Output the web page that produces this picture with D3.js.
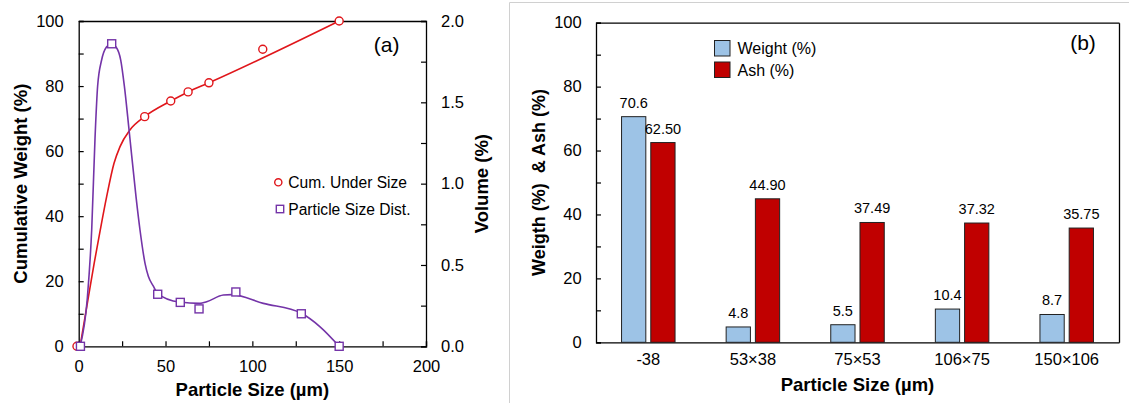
<!DOCTYPE html>
<html>
<head>
<meta charset="utf-8">
<script src="https://cdn.jsdelivr.net/npm/d3@7"></script>
<style>
html,body{margin:0;padding:0;background:#fff;}
svg{display:block;font-family:"Liberation Sans",Arial,sans-serif;}
</style>
</head>
<body>
<svg id="chart" width="1129" height="403"></svg>
<script>
// ---------- Panel (a) data ----------
const cumX = [-1, 38, 53, 63, 75, 106, 150];
const cumY = [0, 70.6, 75.4, 78.2, 81.0, 91.3, 100];
const cumLineX = [0.8, 5.6, 8.9, 12.4, 16.1, 20.3, 23.8, 29.5, 38, 53, 63, 75, 150];
const cumLineY = [0, 15.2, 25.5, 35.7, 46, 56.2, 61.4, 66.5, 70.6, 75.4, 78.2, 81, 100];
const psdX = [1, 19, 45.5, 58.5, 69.3, 90.5, 128.2, 150];
const psdV = [0, 1.86, 0.32, 0.27, 0.23, 0.334, 0.20, 0];
const psdLineX = [0.8, 5, 7.5, 9.4, 10.9, 13.2, 16, 18.8, 21.5, 24.2, 26.3, 29, 33, 35.3, 38.2, 40.1, 43, 45.3, 58, 69.9, 73.7, 83.3, 88, 106.3, 128.2, 139, 150];
const psdLineV = [0, 0.3, 0.72, 1.28, 1.6, 1.76, 1.84, 1.86, 1.84, 1.76, 1.6, 1.33, 0.92, 0.715, 0.51, 0.43, 0.37, 0.326, 0.272, 0.264, 0.274, 0.315, 0.318, 0.264, 0.203, 0.12, 0];
const xTicksA = [0, 50, 100, 150, 200];
const yTicksA = [0, 20, 40, 60, 80, 100];
const y2TicksA = [0, 0.5, 1.0, 1.5, 2.0];

// ---------- Panel (b) data ----------
const categories = ["-38", "53\u00d738", "75\u00d753", "106\u00d775", "150\u00d7106"];
const weightPct = [70.6, 4.8, 5.5, 10.4, 8.7];
const ashPct = [62.50, 44.90, 37.49, 37.32, 35.75];
const seriesB = ["Weight (%)", "Ash (%)"];
const yTicksB = [0, 20, 40, 60, 80, 100];

const svg = d3.select("#chart");
const FONT = '"Liberation Sans",Arial,sans-serif';
const RED = "#e0161b", PURPLE = "#7434a8", BLUE = "#9dc3e6", DRED = "#c00000";

// ================= Panel (a) =================
const A = {l: 78.7, r: 426, t: 21, b: 346.3};
const xa = d3.scaleLinear().domain([0, 200]).range([A.l, A.r]);
const ya = d3.scaleLinear().domain([0, 100]).range([A.b, A.t]);
const ya2 = d3.scaleLinear().domain([0, 2]).range([A.b, A.t]);
const ga = svg.append("g");

// axes
const axB = ga.append("g").attr("transform", `translate(0,${A.b})`)
  .call(d3.axisBottom(xa).tickValues(d3.range(0, 201, 25)).tickSize(-5).tickFormat(d => xTicksA.includes(d) ? d : ""));
const axL = ga.append("g").attr("transform", `translate(${A.l},0)`)
  .call(d3.axisLeft(ya).tickValues(d3.range(0, 101, 10)).tickSize(-5).tickFormat(d => yTicksA.includes(d) ? d : ""));
const axR = ga.append("g").attr("transform", `translate(${A.r},0)`)
  .call(d3.axisRight(ya2).tickValues(d3.range(0, 2.01, 0.25)).tickSize(-5).tickFormat(d => y2TicksA.some(v => Math.abs(v - d) < 1e-6) ? d3.format(".1f")(d) : ""));
const axT = ga.append("g").attr("transform", `translate(0,${A.t})`)
  .call(d3.axisTop(xa).tickValues([]).tickSize(0));
[axB, axL, axR, axT].forEach(g => {
  g.select(".domain").attr("stroke", "#000").attr("stroke-width", 1.3);
  g.selectAll(".tick line").attr("stroke", "#000").attr("stroke-width", 1.2);
  g.selectAll(".tick text").attr("font-family", FONT).attr("font-size", 16.5).attr("fill", "#000");
});
axB.selectAll(".tick text").attr("y", 14).attr("dy", "0.71em");
axL.selectAll(".tick text").attr("x", -15);
axR.selectAll(".tick text").attr("x", 15);

// red fitted line
const lineA = d3.line().x(d => xa(d[0])).y(d => ya(d[1])).curve(d3.curveMonotoneX);
ga.append("path").datum(cumLineX.map((x, i) => [x, cumLineY[i]]))
  .attr("d", lineA).attr("fill", "none").attr("stroke", RED).attr("stroke-width", 1.6);
ga.selectAll("circle.cum").data(cumX.map((x, i) => [x, cumY[i]])).enter().append("circle")
  .attr("cx", d => xa(d[0])).attr("cy", d => ya(d[1])).attr("r", 4)
  .attr("fill", "#fff").attr("stroke", RED).attr("stroke-width", 1.4);

// purple curve
const lineA2 = d3.line().x(d => xa(d[0])).y(d => ya2(d[1])).curve(d3.curveMonotoneX);
ga.append("path").datum(psdLineX.map((x, i) => [x, psdLineV[i]]))
  .attr("d", lineA2).attr("fill", "none").attr("stroke", PURPLE).attr("stroke-width", 1.6);
ga.selectAll("rect.psd").data(psdX.map((x, i) => [x, psdV[i]])).enter().append("rect")
  .attr("x", d => xa(d[0]) - 4).attr("y", d => ya2(d[1]) - 4).attr("width", 8).attr("height", 8)
  .attr("fill", "#fff").attr("stroke", PURPLE).attr("stroke-width", 1.4);

// legend (a)
ga.append("circle").attr("cx", 278.3).attr("cy", 182.3).attr("r", 3.6)
  .attr("fill", "#fff").attr("stroke", RED).attr("stroke-width", 1.4);
ga.append("text").attr("x", 288.3).attr("y", 188).attr("font-size", 15.6).text("Cum. Under Size");
ga.append("rect").attr("x", 276.3).attr("y", 205.3).attr("width", 7.4).attr("height", 7.4)
  .attr("fill", "#fff").attr("stroke", PURPLE).attr("stroke-width", 1.4);
ga.append("text").attr("x", 288.3).attr("y", 214.5).attr("font-size", 15.6).text("Particle Size Dist.");

ga.append("text").attr("x", 386.7).attr("y", 52).attr("text-anchor", "middle").attr("font-size", 21).text("(a)");

// titles (a)
ga.append("text").attr("x", (A.l + A.r) / 2).attr("y", 396).attr("text-anchor", "middle")
  .attr("font-size", 18.5).attr("font-weight", "bold").text("Particle Size (\u00b5m)");
ga.append("text").attr("transform", `translate(26.7,${(A.t + A.b) / 2}) rotate(-90)`).attr("text-anchor", "middle")
  .attr("font-size", 18.5).attr("font-weight", "bold").text("Cumulative Weight (%)");
ga.append("text").attr("transform", `translate(488.3,${(A.t + A.b) / 2}) rotate(-90)`).attr("text-anchor", "middle")
  .attr("font-size", 18.5).attr("font-weight", "bold").text("Volume (%)");

// ================= Panel (b) =================
// panel frame
svg.append("path").attr("d", "M509.5,403 V2.5 H1129").attr("fill", "none").attr("stroke", "#d0d0d0").attr("stroke-width", 1);

const B = {l: 596, r: 1119, t: 22.7, b: 342.3};
const xb = d3.scaleBand().domain(categories).range([B.l, B.r]).paddingInner(0).paddingOuter(0);
const xs = d3.scaleBand().domain(seriesB).range([-26.75, 26.75]).paddingInner(0.17);
const yb = d3.scaleLinear().domain([0, 100]).range([B.b, B.t]);
const gb = svg.append("g");

const bL = gb.append("g").attr("transform", `translate(${B.l},0)`)
  .call(d3.axisLeft(yb).tickValues(d3.range(0, 101, 10)).tickSize(-5).tickFormat(d => yTicksB.includes(d) ? d : ""));
const bB = gb.append("g").attr("transform", `translate(0,${B.b})`)
  .call(d3.axisBottom(xb).tickSize(0));
const bT = gb.append("g").attr("transform", `translate(0,${B.t})`).call(d3.axisTop(xb).tickValues([]).tickSize(0));
const bR = gb.append("g").attr("transform", `translate(${B.r},0)`).call(d3.axisRight(yb).tickValues([]).tickSize(0));
[bL, bB, bT, bR].forEach(g => {
  g.select(".domain").attr("stroke", "#000").attr("stroke-width", 1.3);
  g.selectAll(".tick line").attr("stroke", "#000").attr("stroke-width", 1.2);
  g.selectAll(".tick text").attr("font-family", FONT).attr("font-size", 16.5).attr("fill", "#000");
});
bL.selectAll(".tick text").attr("x", -14.3);
bB.selectAll(".tick text").attr("y", 11).attr("dy", "0.71em");

const seriesData = [weightPct, ashPct];
const colors = [BLUE, DRED];
const fmts = [d3.format(".1f"), d3.format(".2f")];
seriesB.forEach((s, si) => {
  const cx = c => xb(c) + xb.bandwidth() / 2 + xs(s);
  gb.selectAll(`rect.s${si}`).data(categories).enter().append("rect")
    .attr("x", c => cx(c)).attr("width", xs.bandwidth())
    .attr("y", (c, i) => yb(seriesData[si][i])).attr("height", (c, i) => B.b - yb(seriesData[si][i]))
    .attr("fill", colors[si]).attr("stroke", "#222").attr("stroke-width", 1);
  gb.selectAll(`text.s${si}`).data(categories).enter().append("text")
    .attr("x", c => cx(c) + xs.bandwidth() / 2).attr("y", (c, i) => yb(seriesData[si][i]) - 9)
    .attr("text-anchor", "middle").attr("font-size", 14.5).text((c, i) => fmts[si](seriesData[si][i]));
});

// legend (b)
seriesB.forEach((s, i) => {
  gb.append("rect").attr("x", 714.5).attr("y", 40.5 + i * 21.5).attr("width", 15.5).attr("height", 15.5)
    .attr("fill", colors[i]).attr("stroke", "#222").attr("stroke-width", 1);
  gb.append("text").attr("x", 737.5).attr("y", 54 + i * 21.5).attr("font-size", 16).text(s);
});

gb.append("text").attr("x", 1083).attr("y", 50).attr("text-anchor", "middle").attr("font-size", 21).text("(b)");

gb.append("text").attr("x", (B.l + B.r) / 2).attr("y", 391).attr("text-anchor", "middle")
  .attr("font-size", 18.5).attr("font-weight", "bold").text("Particle Size (\u00b5m)");
gb.append("text").attr("transform", `translate(545,${(B.t + B.b) / 2}) rotate(-90)`).attr("text-anchor", "middle")
  .attr("xml:space", "preserve").style("white-space", "pre")
  .attr("font-size", 18).attr("font-weight", "bold").text("Weigth (%)  & Ash (%)");
</script>
</body>
</html>
